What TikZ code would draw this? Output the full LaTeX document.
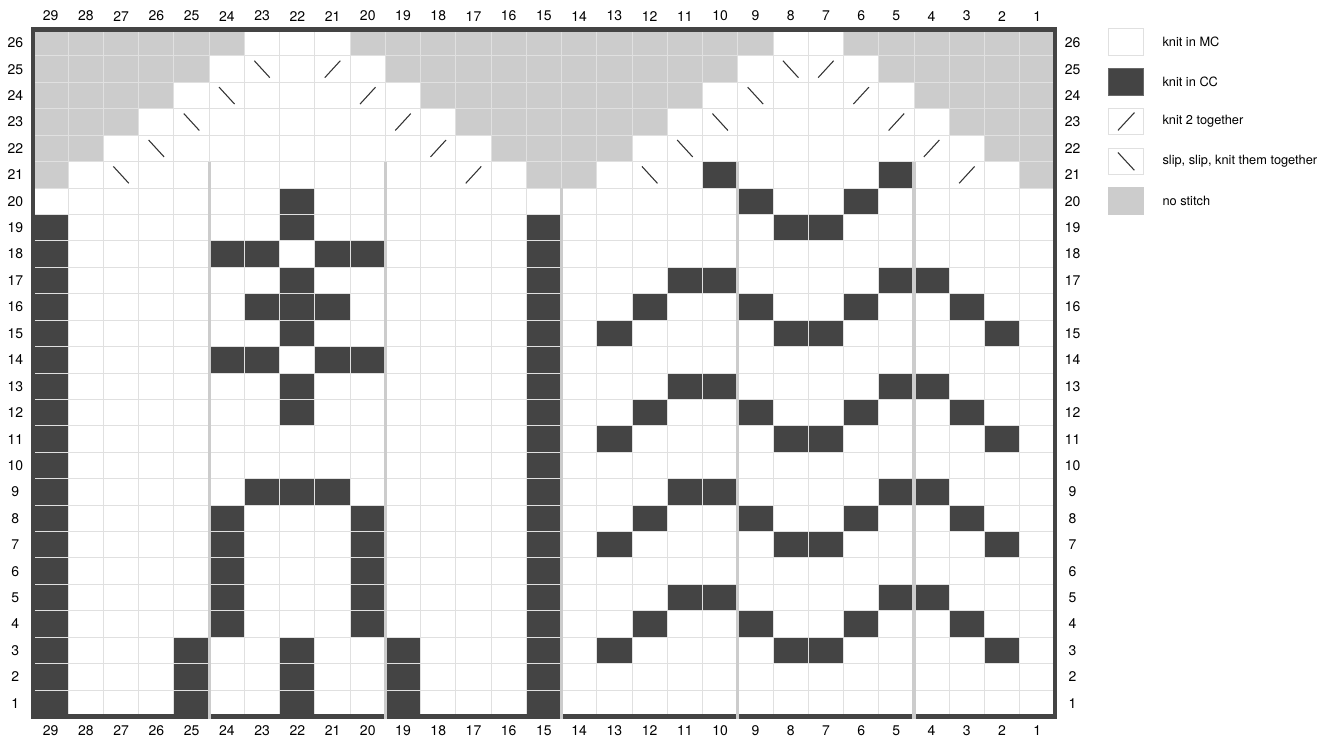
\documentclass[tikz,border=0pt]{standalone}
\usepackage{fontspec}
\setmainfont{TeX Gyre Heros}
\usetikzlibrary{positioning}

\definecolor{ccgray}{HTML}{444444}
\definecolor{nsgray}{HTML}{CCCCCC}
\definecolor{gridgray}{HTML}{E0E0E0}
\definecolor{repgray}{HTML}{CCCCCC}

\tikzset{
  cc/.style={fill=ccgray},
  nostitch/.style={fill=nsgray},
  gridline/.style={draw=gridgray, line width=0.75pt},
  repeatline/.style={draw=repgray, line width=2.4pt},
  border/.style={draw=ccgray, line width=3.2pt},
  stitchline/.style={draw=black!80, line width=0.8pt},
  numlabel/.style={font=\fontsize{10.5}{12}\selectfont, inner sep=0pt},
  keybox/.style={draw=gridgray, line width=0.75pt, minimum width=26.4pt, minimum height=19.8pt, inner sep=0pt},
  keytext/.style={font=\fontsize{9.6}{11}\selectfont, inner sep=0pt}
}

\begin{document}
\begin{tikzpicture}[x=26.43pt, y=19.815pt]
\useasboundingbox (-0.9364,-0.8895) rectangle (36.833,27.119);

% no stitch wedges above row 20
\foreach \k in {1,...,6} {
  \fill[nostitch] (0,19+\k) rectangle (\k,20+\k);
  \fill[nostitch] (15-\k,19+\k) rectangle (15+\k,20+\k);
  \fill[nostitch] (29-\k,19+\k) rectangle (29,20+\k);
}

% contrast colour, left panel
\fill[cc] (0,0) rectangle (1,19);
\fill[cc] (14,0) rectangle (15,19);
\fill[cc] (4,0) rectangle (5,3);
\fill[cc] (7,0) rectangle (8,3);
\fill[cc] (10,0) rectangle (11,3);
\fill[cc] (5,3) rectangle (6,8);
\fill[cc] (9,3) rectangle (10,8);
\fill[cc] (6,8) rectangle (9,9);
\fill[cc] (7,11) rectangle (8,13);
\fill[cc] (7,14) rectangle (8,17);
\fill[cc] (7,18) rectangle (8,20);
\fill[cc] (6,15) rectangle (9,16);
\foreach \r in {14,18} {
  \fill[cc] (5,\r-1) rectangle (7,\r);
  \fill[cc] (8,\r-1) rectangle (10,\r);
}

% contrast colour, right panel (diamonds)
\foreach \r in {3,7,11,15}
  \foreach \x in {16,21,22,27} \fill[cc] (\x,\r-1) rectangle ++(1,1);
\foreach \r in {4,8,12,16}
  \foreach \x in {17,20,23,26} \fill[cc] (\x,\r-1) rectangle ++(1,1);
\foreach \r in {5,9,13,17}
  \foreach \x in {18,19,24,25} \fill[cc] (\x,\r-1) rectangle ++(1,1);
\foreach \x in {21,22} \fill[cc] (\x,18) rectangle ++(1,1);
\foreach \x in {20,23} \fill[cc] (\x,19) rectangle ++(1,1);
\foreach \x in {19,24} \fill[cc] (\x,20) rectangle ++(1,1);

% grid
\foreach \i in {1,...,28} \draw[gridline] (\i,0) -- (\i,26);
\foreach \j in {1,...,25} \draw[gridline] (0,\j) -- (29,\j);

% decreases
\foreach \k in {1,...,5} {
  \foreach \x in {1,16} % ssk
    \draw[stitchline] (\x+\k+0.28,19+\k+0.82) -- (\x+\k+0.72,19+\k+0.18);
  \foreach \x in {13,27} % k2tog
    \draw[stitchline] (\x-\k+0.28,19+\k+0.18) -- (\x-\k+0.72,19+\k+0.82);
}

\draw[border] (0,0) rectangle (29,26);

% repeat lines
\foreach \x in {5,10,20,25} \draw[repeatline] (\x,-0.1) -- (\x,21);
\draw[repeatline] (15,-0.1) -- (15,20);

% stitch and row numbers
\foreach \c in {1,...,29} {
  \node[numlabel] (top-\c) at (29.5-\c,26.51) {\c};
  \node[numlabel] (bot-\c) at (29.5-\c,-0.55) {\c};
}
\foreach \r in {1,...,26} {
  \node[numlabel] (left-\r) at (-0.5,\r-0.5) {\r};
  \node[numlabel] (right-\r) at (29.5,\r-0.5) {\r};
}

% key
\node[keybox, fill=white] (key-mc) at (31.02,25.53) {};
\node[keybox, fill=ccgray, draw=ccgray!80] (key-cc) at (31.02,24.02) {};
\node[keybox, fill=white] (key-k2) at (31.02,22.52) {};
\node[keybox, fill=white] (key-ssk) at (31.02,21.01) {};
\node[keybox, fill=nsgray, draw=nsgray] (key-ns) at (31.02,19.51) {};
\draw[stitchline] ([xshift=7.4pt,yshift=3.6pt]key-k2.south west) -- ([xshift=-7.4pt,yshift=-3.6pt]key-k2.north east);
\draw[stitchline] ([xshift=7.4pt,yshift=-3.6pt]key-ssk.north west) -- ([xshift=-7.4pt,yshift=3.6pt]key-ssk.south east);
\node[keytext, right=13.5pt of key-mc] (txt-mc) {knit in MC};
\node[keytext, right=13.5pt of key-cc] (txt-cc) {knit in CC};
\node[keytext, right=13.5pt of key-k2] (txt-k2) {knit 2 together};
\node[keytext, right=13.5pt of key-ssk] (txt-ssk) {slip, slip, knit them together};
\node[keytext, right=13.5pt of key-ns] (txt-ns) {no stitch};
\end{tikzpicture}
\end{document}
